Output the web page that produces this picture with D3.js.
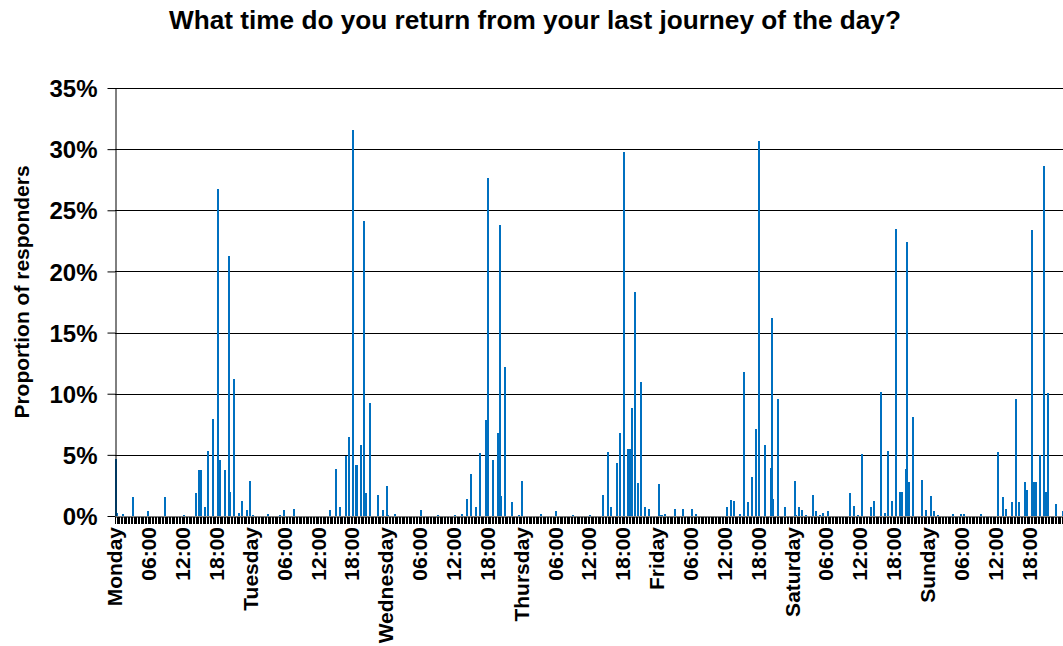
<!DOCTYPE html>
<html><head><meta charset="utf-8">
<script src="https://cdn.jsdelivr.net/npm/d3@7"></script>
<style>
body{margin:0;background:#fff}
svg{display:block}
text{font-family:Arial,"Liberation Sans",sans-serif;font-weight:bold;fill:#000}
</style>
</head><body>
<svg id="c" width="1063" height="646"></svg>
<script>
const chartTitle = "What time do you return from your last journey of the day?";
const yTitle = "Proportion of responders";
const days = ["Monday","Tuesday","Wednesday","Thursday","Friday","Saturday","Sunday"];
const hourLabels = ["06:00","12:00","18:00"];
const slotMinutes = 15;
const yTicks = [0,5,10,15,20,25,30,35];

// [time of day, % of responders]; slots not listed are 0
const monday = [["00:00",4.7],["00:15",0.25],["01:15",0.2],["03:00",1.55],["05:45",0.4],["08:45",1.55],["12:00",0.1],["14:15",1.9],["14:45",3.8],["15:00",3.8],["15:45",0.7],["16:15",5.3],["17:15",7.9],["18:00",26.7],["18:30",4.6],["19:15",3.8],["20:00",21.3],["20:15",2.0],["21:00",11.2],["21:45",0.25],["22:15",1.2],["23:15",0.5],["23:45",2.9]];
const tuesday = [["00:15",0.1],["03:00",0.16],["05:00",0.1],["05:45",0.5],["07:30",0.55],["14:00",0.5],["15:00",3.84],["15:45",0.7],["16:45",4.9],["17:15",6.5],["18:00",31.6],["18:30",4.2],["18:45",4.2],["19:30",5.8],["20:00",24.1],["20:15",1.9],["21:00",9.24],["22:30",1.7],["23:15",0.5]];
const wednesday = [["00:00",2.45],["00:15",0.1],["01:30",0.16],["06:00",0.5],["09:00",0.1],["12:00",0.1],["13:15",0.16],["14:15",1.4],["15:00",3.4],["15:45",0.7],["16:30",5.15],["17:30",7.85],["18:00",27.6],["18:45",4.6],["19:45",6.8],["20:00",23.8],["20:15",1.6],["21:00",12.2],["22:15",1.15],["23:30",0.1]];
const thursday = [["00:00",2.9],["03:15",0.16],["06:00",0.4],["09:00",0.1],["12:00",0.1],["14:15",1.7],["15:15",5.2],["15:45",0.7],["16:45",4.3],["17:15",6.8],["18:00",29.8],["18:45",5.5],["19:00",5.5],["19:30",8.8],["20:00",18.3],["20:30",2.7],["21:00",10.95],["21:45",0.7],["22:30",0.55]];
const friday = [["00:15",2.6],["00:30",0.1],["00:45",0.1],["01:15",0.16],["03:00",0.55],["04:30",0.55],["06:00",0.55],["06:45",0.16],["12:15",0.7],["13:00",1.3],["13:30",1.25],["14:30",0.16],["15:15",11.8],["16:00",1.15],["16:45",3.2],["17:30",7.1],["18:00",30.7],["19:00",5.8],["20:00",3.9],["20:15",16.2],["20:30",1.4],["21:15",9.55],["22:30",0.7]];
const saturday = [["00:15",2.9],["00:30",0.1],["01:00",0.7],["01:30",0.5],["02:15",0.1],["03:30",1.7],["04:00",0.4],["04:45",0.1],["05:15",0.25],["06:15",0.4],["10:00",1.9],["10:45",0.85],["11:30",0.1],["12:15",5.1],["13:45",0.7],["14:15",1.25],["15:30",10.1],["16:15",0.25],["16:45",5.3],["17:30",1.25],["18:15",23.5],["19:00",1.96],["19:15",1.96],["20:00",3.84],["20:15",22.4],["20:30",2.8],["21:15",8.1],["22:45",2.95],["23:30",0.5]];
const sunday = [["00:30",1.6],["01:00",0.4],["01:45",0.1],["04:15",0.15],["05:45",0.15],["06:15",0.15],["09:15",0.15],["12:15",5.2],["13:15",1.55],["13:45",0.55],["14:45",1.15],["15:30",9.55],["16:00",1.15],["17:00",2.8],["17:30",2.1],["18:15",23.4],["18:45",2.8],["19:00",2.8],["19:45",5.0],["20:30",28.6],["20:45",1.96],["21:15",10.05],["22:30",1.0],["23:45",0.4]];
const dayValues = [monday,tuesday,wednesday,thursday,friday,saturday,sunday];

const M = {left:115, right:1063, top:88, bottom:516};
const barColor = "#0070c0";

const slotsPerDay = 24*60/slotMinutes;
const fmt = m => String(Math.floor(m/60)).padStart(2,"0")+":"+String(m%60).padStart(2,"0");
const categories = [];
days.forEach(d => { for (let s=0; s<slotsPerDay; s++) categories.push(d+" "+fmt(s*slotMinutes)); });
const valueMap = new Map();
dayValues.forEach((arr,di) => arr.forEach(([t,v]) => valueMap.set(days[di]+" "+t, v)));
const data = categories.map(c => ({cat:c, value:valueMap.get(c) || 0}));

const svg = d3.select("#c");
const x = d3.scaleBand().domain(categories).range([M.left, M.right]).padding(0);
const y = d3.scaleLinear().domain([0,35]).range([M.bottom, M.top]);

// gridlines
svg.append("g").selectAll("line").data(yTicks.filter(t=>t>0)).join("line")
  .attr("x1", M.left).attr("x2", M.right)
  .attr("y1", d=>Math.round(y(d))+0.5).attr("y2", d=>Math.round(y(d))+0.5)
  .attr("stroke","#000").attr("stroke-width",1);

// bars
svg.append("g").attr("shape-rendering","crispEdges").selectAll("rect")
  .data(data.filter(d=>d.value>0)).join("rect")
  .attr("x", d=>Math.round(x(d.cat))).attr("width", 2)
  .attr("y", d=>y(d.value)).attr("height", d=>y(0)-y(d.value))
  .attr("fill", barColor);

// y axis
const yAxis = svg.append("g").attr("transform",`translate(${M.left+0.5},0)`)
  .call(d3.axisLeft(y).tickValues(yTicks).tickSize(8).tickSizeOuter(0).tickPadding(10).tickFormat(d=>d+"%"));
yAxis.selectAll("line").attr("stroke","#000");
yAxis.select(".domain").attr("stroke","#000");
yAxis.selectAll("text").style("font-size","24px").attr("dy","0.36em");

// x axis ticks (one per category)
const xTicks = svg.append("g").attr("transform",`translate(0,${M.bottom+0.5})`)
  .call(d3.axisBottom(x).tickValues(categories).tickSize(7).tickSizeOuter(0).tickFormat(""));
xTicks.selectAll("line").attr("stroke","#000").attr("shape-rendering","crispEdges");
xTicks.select(".domain").attr("stroke","#000");

// x axis labels
const labelCats = [], labelText = new Map();
days.forEach(d => {
  labelCats.push(d+" 00:00"); labelText.set(d+" 00:00", d);
  hourLabels.forEach(h => { labelCats.push(d+" "+h); labelText.set(d+" "+h, h); });
});
const xLab = svg.append("g").attr("transform",`translate(0,${M.bottom})`)
  .call(d3.axisBottom(x).tickValues(labelCats).tickSize(0).tickPadding(0).tickFormat(c=>labelText.get(c)));
xLab.select(".domain").remove();
xLab.selectAll("text")
  .style("font-size","21px").attr("text-anchor","end")
  .attr("transform","rotate(-90)").attr("x",-11).attr("y",0).attr("dy","0.32em");

// titles
svg.append("text").attr("x",535).attr("y",29).attr("text-anchor","middle")
  .style("font-size","26.2px").text(chartTitle);
svg.append("text").attr("transform","translate(29,292) rotate(-90)").attr("text-anchor","middle")
  .style("font-size","21px").text(yTitle);
</script>
</body></html>
